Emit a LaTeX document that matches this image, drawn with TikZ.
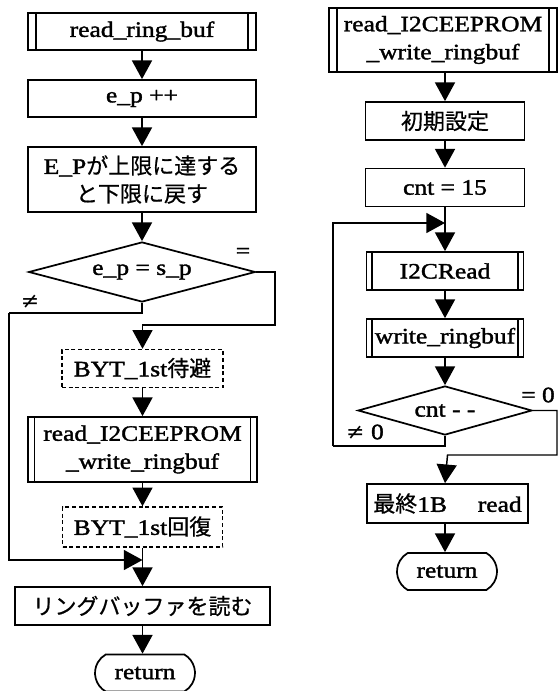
\documentclass[tikz,border=0pt]{standalone}
\usepackage{fontspec}
\setmainfont[FakeStretch=1.16,FakeBold=1.6]{Liberation Serif}
\newfontfamily\jp[FakeBold=0.6]{Noto Sans CJK JP}
\newfontfamily\sym{DejaVu Serif}
\usetikzlibrary{arrows.meta,shapes.geometric,shapes.misc}
\begin{document}
\begin{tikzpicture}[x=0.75pt,y=-0.75pt,
  txt/.style={font=\fontsize{16.5}{21}\selectfont},
  box/.style={txt,draw,line width=1.3pt,inner sep=0pt,align=center},
  dbox/.style={box,dashed,dash pattern=on 3pt off 2pt,line width=1.1pt},
  sub/.style={box,path picture={
      \draw[line width=1.1pt] ([xshift=#1]path picture bounding box.north west) -- ([xshift=#1]path picture bounding box.south west);
      \draw[line width=1.1pt] ([xshift=-#1]path picture bounding box.north east) -- ([xshift=-#1]path picture bounding box.south east);}},
  sub/.default=6pt,
  dec/.style={txt,draw,line width=1.3pt,shape=diamond,inner sep=0pt,aspect=3.5},
  term/.style={box,shape=rounded rectangle,rounded rectangle arc length=120},
  lbl/.style={txt,inner sep=0pt},
  line/.style={line width=1.1pt},
  arr/.style={line,-{Triangle[width=15pt,length=14pt]}}
]
\useasboundingbox (0,0) rectangle (558,691);

% ---------- left column ----------
\node[sub=6pt,minimum width=171pt,minimum height=27.75pt] (rrb) at (142,31.5) {read\_ring\_buf};
\node[box,minimum width=171pt,minimum height=27.75pt] (ep) at (142,98.5) {e\_p ++};
\node[box,minimum width=171pt,minimum height=48.75pt] (EP) at (142,179.5) {E\_P{\jp が上限に達する}\\{\jp と下限に戻す}};
\node[dec,minimum width=170pt,minimum height=45pt] (d1) at (142,272) {e\_p = s\_p};
\node[dbox,minimum width=120.75pt,minimum height=28.5pt] (byt1) at (142.5,368.5) {BYT\_1st{\jp 待避}};
\node[sub=5pt,minimum width=171.75pt,minimum height=48.75pt] (ri2c) at (142.5,449.5) {read\_I2CEEPROM\\\_write\_ringbuf};
\node[dbox,minimum width=120pt,minimum height=30pt] (byt2) at (142.5,527) {BYT\_1st{\jp 回復}};
\node[box,minimum width=191.25pt,minimum height=28.5pt] (ring) at (142.5,606) {{\jp リングバッファを読む}};
\node[term,minimum width=75pt,minimum height=27.75pt] (ret1) at (145,673) {return};

\node[lbl] (eq1) at (243,253) {=};
\node[lbl] (ne1) at (30,302) {{\sym ≠}};

\coordinate (r1) at (275,325);
\coordinate (n1) at (9,313);
\coordinate (m1) at (142.5,560);

\draw[arr] (rrb) -- (ep);
\draw[arr] (ep) -- (EP);
\draw[arr] (EP) -- (d1);
\draw[arr] (d1.east) -| (r1) -- (r1 -| byt1.north) -- (byt1.north);
\draw[line] (d1.south) |- (n1);
\draw[arr] (n1) |- (m1);
\draw[arr] (byt1) -- (ri2c);
\draw[arr] (ri2c) -- (byt2);
\draw[arr] (byt2) -- (ring);
\draw[arr] (ring.south) -- (ring.south |- ret1.north);

% ---------- right column ----------
\node[sub=6pt,minimum width=171pt,minimum height=48pt] (ri2c2) at (443,40) {read\_I2CEEPROM\\\_write\_ringbuf};
\node[box,minimum width=119.25pt,minimum height=28.5pt] (init) at (445,121) {{\jp 初期設定}};
\node[box,minimum width=119.25pt,minimum height=28.5pt] (cnt) at (445,187.5) {cnt = 15};
\node[sub=4pt,minimum width=117.75pt,minimum height=28.5pt] (i2cr) at (445,271) {I2CRead};
\node[sub=4pt,minimum width=117.75pt,minimum height=28.5pt] (wrb) at (445,338) {write\_ringbuf};
\node[dec,minimum width=130.5pt,minimum height=36.75pt] (d2) at (445,410.5) {cnt - -};
\node[box,minimum width=120.75pt,minimum height=29.25pt] (fin) at (447.5,503.5) {{\jp 最終}1B\hspace{1.4em}read};
\node[term,minimum width=75pt,minimum height=27.75pt] (ret2) at (447,571.5) {return};

\node[lbl] (eq2) at (538,395) {= 0};
\node[lbl] (ne2) at (365,432) {{\sym ≠} 0};

\coordinate (r2) at (557,455);
\coordinate (n2) at (333,446);
\coordinate (m2) at (445,223);

\draw[arr] (ri2c2.south -| init.north) -- (init.north);
\draw[arr] (init) -- (cnt);
\draw[arr] (cnt) -- (i2cr);
\draw[arr] (i2cr) -- (wrb);
\draw[arr] (wrb) -- (d2);
\draw[line] (d2.south) |- (n2);
\draw[arr] (n2) |- (m2);
\draw[arr] (d2.east) -| (r2) -- (r2 -| fin.north) -- (fin.north -| d2.south);
\draw[arr] (fin.south -| d2.south) -- (ret2.north -| d2.south);
\end{tikzpicture}
\end{document}
